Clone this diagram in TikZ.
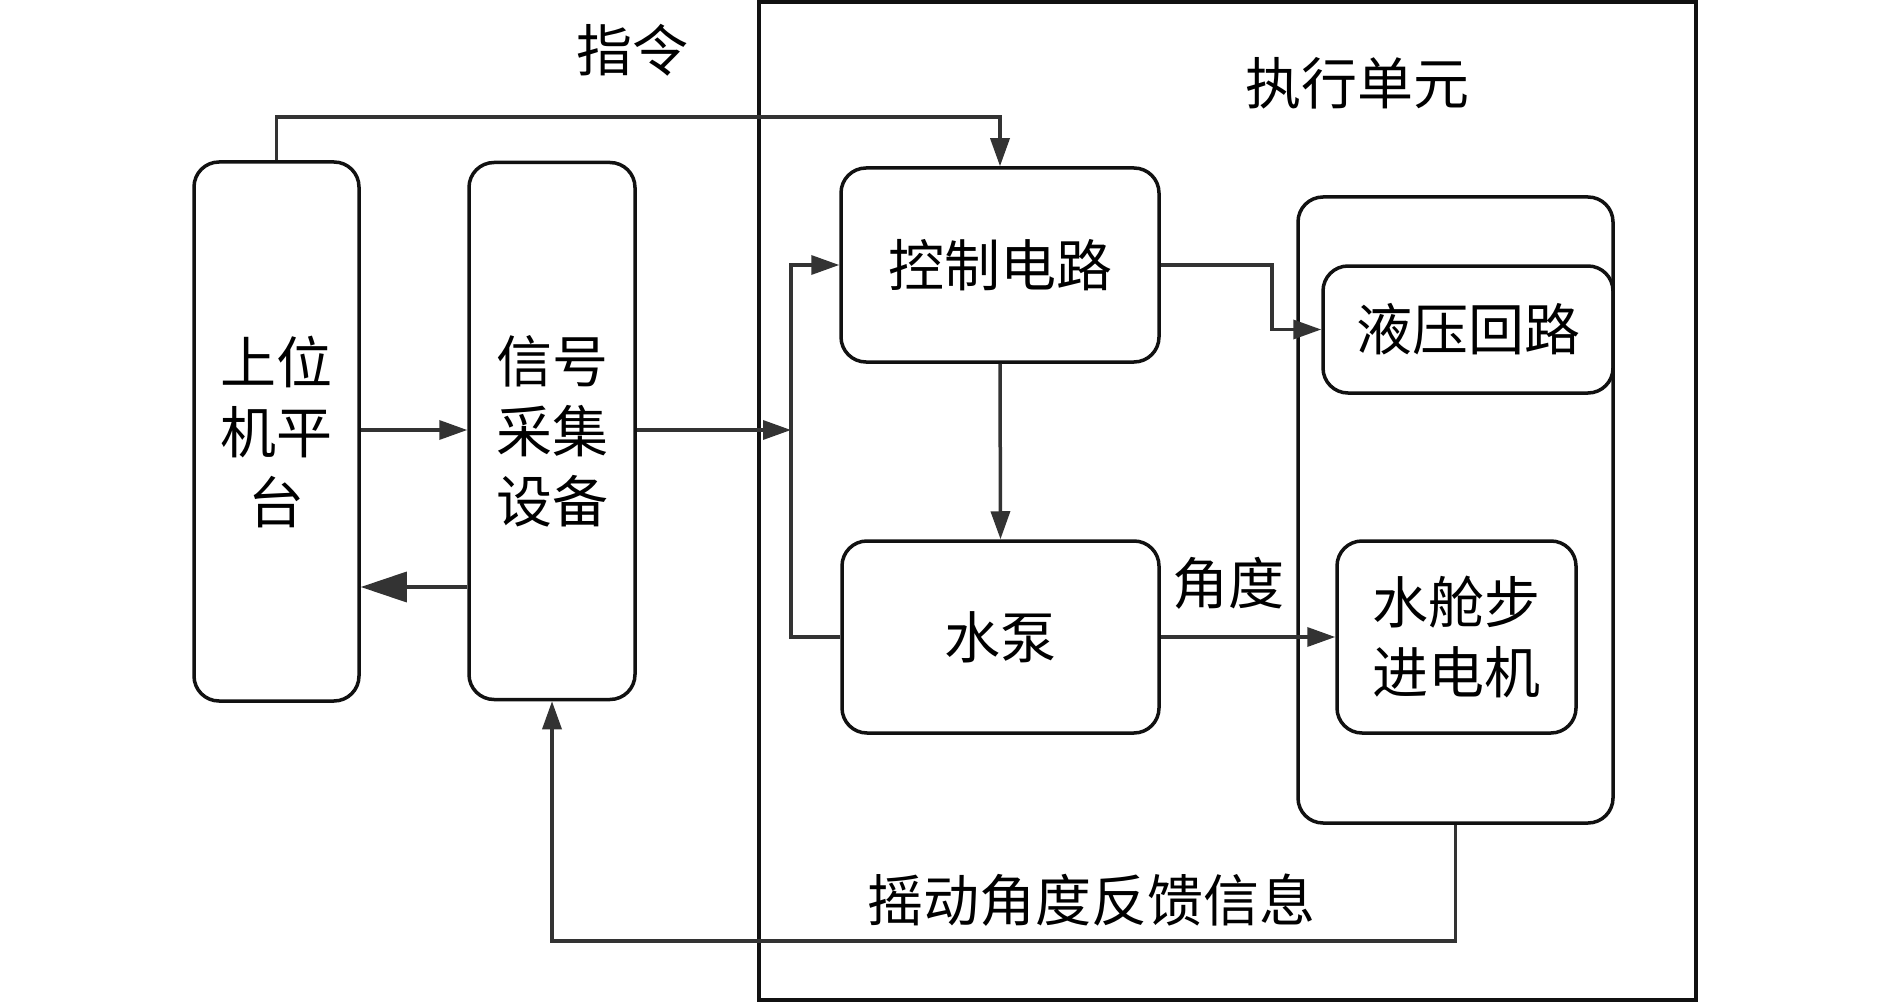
\documentclass[tikz,border=0pt]{standalone}
\usepackage{fontspec}
\setmainfont{Noto Sans CJK SC}
\usetikzlibrary{arrows.meta}
\definecolor{boxc}{HTML}{111111}
\definecolor{linec}{HTML}{333333}
\tikzset{
  blk/.style={draw=boxc,line width=3.5pt,rounded corners=25pt,minimum width=#1,inner sep=0pt,align=center,font=\fontsize{56pt}{70pt}\selectfont},
  lbl/.style={inner sep=0pt,font=\fontsize{56pt}{70pt}\selectfont},
  conn/.style={draw=linec,line width=3.5pt},
  arr/.style={conn,-{Triangle[length=28pt,width=19pt]},color=linec},
  bigarr/.style={conn,-{Triangle[length=46pt,width=30pt]},color=linec}
}
\begin{document}
\begin{tikzpicture}[x=1pt,y=-1pt]
\useasboundingbox (0,0) rectangle (1890,1003);
\fill[white] (0,0) rectangle (1890,1003);
% outer execution unit frame
\node[draw=boxc,line width=4pt,minimum width=937pt,minimum height=998pt,inner sep=0pt] (outer) at (1227.5,501) {};
\node[lbl] (ord) at (632,50) {指令};
\node[lbl] (exe) at (1357,83) {执行单元};
% blocks
\node[blk=165pt,minimum height=539pt] (sw) at (276.5,431.5) {上位\\机平\\台};
\node[blk=166pt,minimum height=537pt] (sig) at (552,431) {信号\\采集\\设备};
\node[blk=318pt,minimum height=194pt] (ctrl) at (1000,265) {控制电路};
\node[blk=317pt,minimum height=192pt] (pump) at (1000.5,637) {水泵};
\node[blk=315pt,minimum height=626pt] (cont) at (1455.5,510) {};
\node[blk=290pt,minimum height=127pt] (hyd) at (1468,329.5) {液压回路};
\node[blk=239pt,minimum height=192pt] (motor) at (1456.5,637) {水舱步\\进电机};
\node[lbl] (ang) at (1228,583) {角度};
\node[lbl] (fb) at (1091,900) {摇动角度反馈信息};
% helper coordinates
\coordinate (ty) at (0,117);
\coordinate (jx) at (791,0);
\coordinate (jn) at (791,430);
\coordinate (bx) at (1272,0);
\coordinate (fy) at (0,941);
\coordinate (ya) at (0,430);
\coordinate (yb) at (0,587);
% connectors
\draw[arr] (sw.north) -- (sw.north |- ty) -| (ctrl.north);
\draw[arr] (sw.east |- ya) -- (sig.west |- ya);
\draw[arr] (sig.east |- ya) -- (jn);
\draw[bigarr] (sig.west |- yb) -- (sw.east |- yb);
\draw[arr] (pump.west) -| (jx |- ctrl.west) -- (ctrl.west);
\draw[arr] (ctrl.south) -- (pump.north);
\draw[arr] (ctrl.east) -| (bx |- hyd.west) -- (hyd.west);
\draw[arr] (pump.east) -- (motor.west);
\draw[arr] (cont.south) |- (sig.south |- fy) -- (sig.south);
\end{tikzpicture}
\end{document}
